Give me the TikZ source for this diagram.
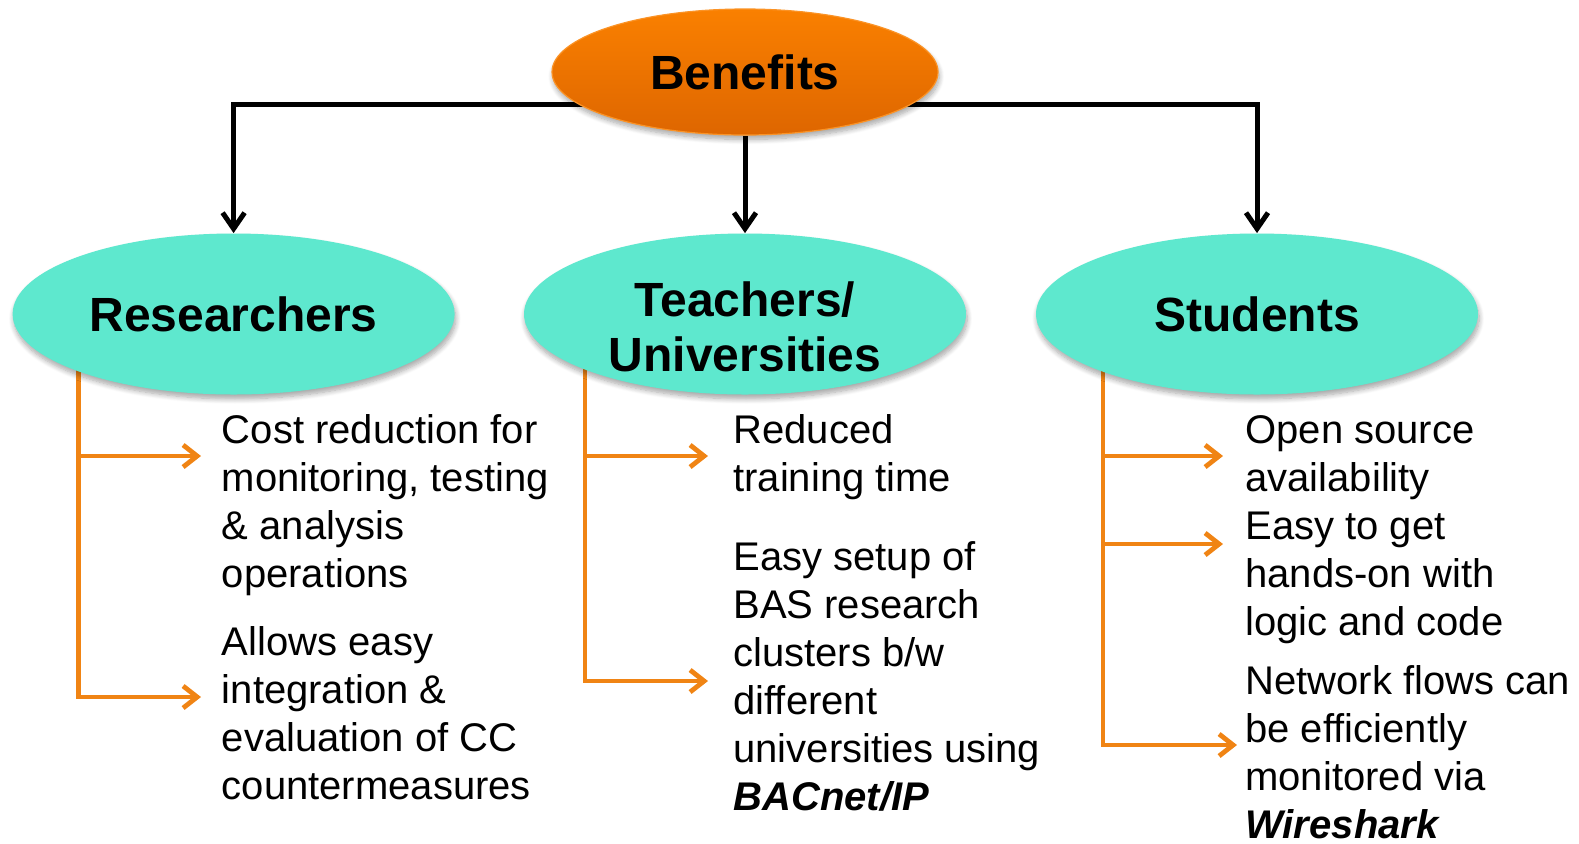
\documentclass[tikz,border=0pt]{standalone}
\usepackage{fontspec}
\setmainfont{Liberation Sans}
\usepackage{xcolor}
\usepackage{tikz}
\usetikzlibrary{
    arrows.meta,
    positioning,
    shapes.geometric,
    shadows.blur,
    backgrounds
}

\definecolor{benefitTop}{RGB}{250,128,0}
\definecolor{benefitBottom}{RGB}{222,102,0}
\definecolor{groupTeal}{RGB}{94,232,206}
\definecolor{branchOrange}{RGB}{240,132,20}

\begin{document}
\begin{tikzpicture}[
    x=0.5pt, y=-0.5pt,
    head_style/.style={
        align=center,
        font=\fontsize{24}{27.7}\selectfont\bfseries
    },
    soft_shadow/.style={
        blur shadow={shadow xshift=0.6pt, shadow yshift=-2.2pt,
            shadow blur radius=2.5pt, shadow blur steps=8, shadow opacity=35}
    },
    benefit_style/.style={
        ellipse,
        head_style,
        top color=benefitTop,
        bottom color=benefitBottom,
        draw=benefitTop!85!white,
        line width=0.6pt,
        minimum width=193pt,
        minimum height=63pt,
        inner sep=0pt,
        soft_shadow
    },
    group_style/.style={
        ellipse,
        head_style,
        fill=groupTeal,
        minimum width=221pt,
        minimum height=80.5pt,
        inner sep=0pt,
        soft_shadow
    },
    % anchored on the baseline of the last line
    item_style/.style={
        anchor=base west,
        align=left,
        inner sep=0pt,
        font=\fontsize{20}{24}\selectfont
    },
    tree_edge/.style={
        draw=black,
        line width=2.5pt,
        -{Straight Barb[length=8pt,width=11pt]}
    },
    branch_edge/.style={
        draw=branchOrange,
        line width=2.4pt,
        -{Straight Barb[length=7pt,width=11pt]}
    }
]
\useasboundingbox (0,0) rectangle (1579,843);

% --- Nodes ---
\node[benefit_style] (B) at (745,72) {Benefits};

\node[group_style] (R) at (233.6,314) {Researchers};
% two-line heading sits a little lower than the ellipse centre
\node[group_style, label={[head_style, yshift=-6.5pt]center:Teachers/\\Universities}] (T) at (745,314) {};
\node[group_style] (S) at (1257,314) {Students};

% Researchers
\node[item_style] (RA) at (221.5,587) {Cost reduction for\\monitoring, testing\\\& analysis\\operations};
\node[item_style] (RB) at (221.5,799.5) {Allows easy\\integration \&\\evaluation of CC\\countermeasures};

% Teachers / universities
\node[item_style] (TA) at (733,491) {Reduced\\training time};
\node[item_style] (TB) at (733,810) {Easy setup of\\BAS research\\clusters b/w\\different\\universities using\\\textbf{\textit{BACnet/IP}}};

% Students
\node[item_style] (SA) at (1245,491) {Open source\\availability};
\node[item_style] (SB) at (1245,635) {Easy to get\\hands-on with\\logic and code};
\node[item_style] (SC) at (1245,838) {Network flows can\\be efficiently\\monitored via\\\textbf{\textit{Wireshark}}};

% branch points (hidden ends sit behind the ellipses)
\coordinate (split) at (745,104);
\coordinate (R0) at (78.5,340);
\coordinate (R1) at (201,456);
\coordinate (R2) at (201,697);
\coordinate (T0) at (585,340);
\coordinate (T1) at (708,456);
\coordinate (T2) at (708,681);
\coordinate (S0) at (1103,340);
\coordinate (S1) at (1223,456);
\coordinate (S2) at (1223,544);
\coordinate (S3) at (1237,745);

% --- Edges ---
\begin{scope}[on background layer]
\draw[tree_edge] (split) -| (R.north);
\draw[tree_edge] (split) -| (S.north);
\draw[tree_edge] (B.south) -- (T.north);

\draw[branch_edge] (R0) |- (R1);
\draw[branch_edge] (R0) |- (R2);
\draw[branch_edge] (T0) |- (T1);
\draw[branch_edge] (T0) |- (T2);
\draw[branch_edge] (S0) |- (S1);
\draw[branch_edge] (S0) |- (S2);
\draw[branch_edge] (S0) |- (S3);
\end{scope}

\end{tikzpicture}
\end{document}
